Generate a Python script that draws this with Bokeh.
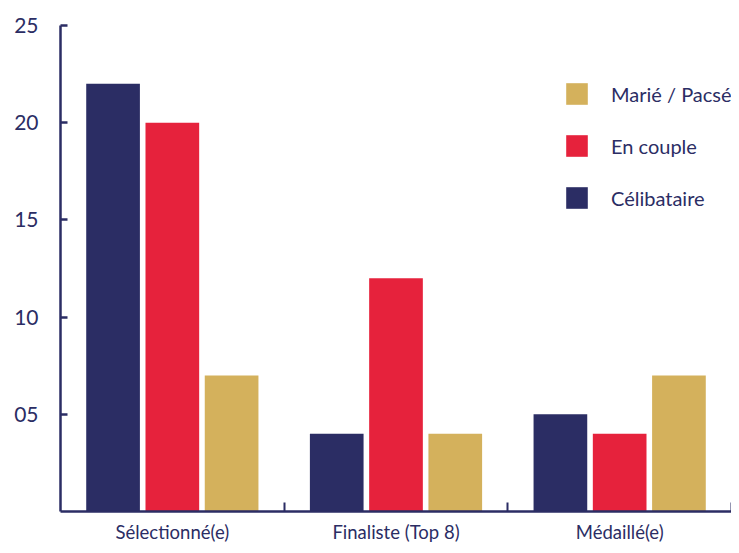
from bokeh.plotting import figure
from bokeh.models import Range1d, FixedTicker, Legend, LegendItem, ColumnDataSource
from bokeh.transform import dodge
from bokeh.embed import file_html
from bokeh.resources import INLINE

categories = ["Sélectionné(e)", "Finaliste (Top 8)", "Médaillé(e)"]
celibataire = [22, 4, 5]
en_couple = [20, 12, 4]
marie_pacse = [7, 4, 7]
series_names = ["Célibataire", "En couple", "Marié / Pacsé"]
y_ticks = [5, 10, 15, 20, 25]
y_tick_labels = ["05", "10", "15", "20", "25"]

NAVY = "#2b2d64"
RED = "#e6223c"
GOLD = "#d4b15c"
FONT = "Lato"

positions = [i + 0.5 for i in range(len(categories))]
source = ColumnDataSource(dict(x=positions, celib=celibataire, couple=en_couple, marie=marie_pacse))

p = figure(width=731, height=545, output_backend="svg", toolbar_location=None,
           x_range=Range1d(0, len(categories)), y_range=Range1d(0, 25),
           min_border_left=60, min_border_top=25, min_border_right=0, min_border_bottom=31)
p.outline_line_color = None
p.xgrid.visible = False
p.ygrid.visible = False

r1 = p.vbar(x=dodge("x", -0.265, range=p.x_range), top="celib", width=0.24, source=source,
            fill_color=NAVY, line_color=None)
r2 = p.vbar(x="x", top="couple", width=0.24, source=source, fill_color=RED, line_color=None)
r3 = p.vbar(x=dodge("x", 0.265, range=p.x_range), top="marie", width=0.24, source=source,
            fill_color=GOLD, line_color=None)

# y axis
ya = p.yaxis[0]
ya.ticker = FixedTicker(ticks=y_ticks, minor_ticks=[])
ya.major_label_overrides = {t: l for t, l in zip(y_ticks, y_tick_labels)}
ya.axis_line_color = NAVY
ya.axis_line_width = 2.5
ya.major_tick_line_color = NAVY
ya.major_tick_line_width = 2.5
ya.major_tick_in = 7
ya.major_tick_out = 0
ya.minor_tick_line_color = None
ya.major_label_text_color = NAVY
ya.major_label_text_font = FONT
ya.major_label_text_font_size = "21px"
ya.major_label_standoff = 22

# x axis
xa = p.xaxis[0]
xa.ticker = FixedTicker(ticks=positions, minor_ticks=[1, 2, 3])
xa.major_label_overrides = {pos: c for pos, c in zip(positions, categories)}
xa.axis_line_color = NAVY
xa.axis_line_width = 2.5
xa.major_tick_line_color = None
xa.major_tick_in = 0
xa.major_tick_out = 0
xa.minor_tick_line_color = NAVY
xa.minor_tick_line_width = 2
xa.minor_tick_in = 9
xa.minor_tick_out = 0
xa.major_label_text_color = NAVY
xa.major_label_text_font = FONT
xa.major_label_text_font_size = "18.5px"
xa.major_label_standoff = 9

legend = Legend(items=[
    LegendItem(label=series_names[2], renderers=[r3]),
    LegendItem(label=series_names[1], renderers=[r2]),
    LegendItem(label=series_names[0], renderers=[r1]),
], location=(503, 300))
legend.padding = 0
legend.margin = 0
legend.spacing = 25
legend.glyph_width = 27
legend.glyph_height = 27
legend.label_standoff = 21
legend.label_text_font = FONT
legend.label_text_font_size = "20px"
legend.label_text_color = NAVY
legend.background_fill_alpha = 0
legend.border_line_alpha = 0
p.add_layout(legend)

open("out.html", "w").write(file_html(p, INLINE))
